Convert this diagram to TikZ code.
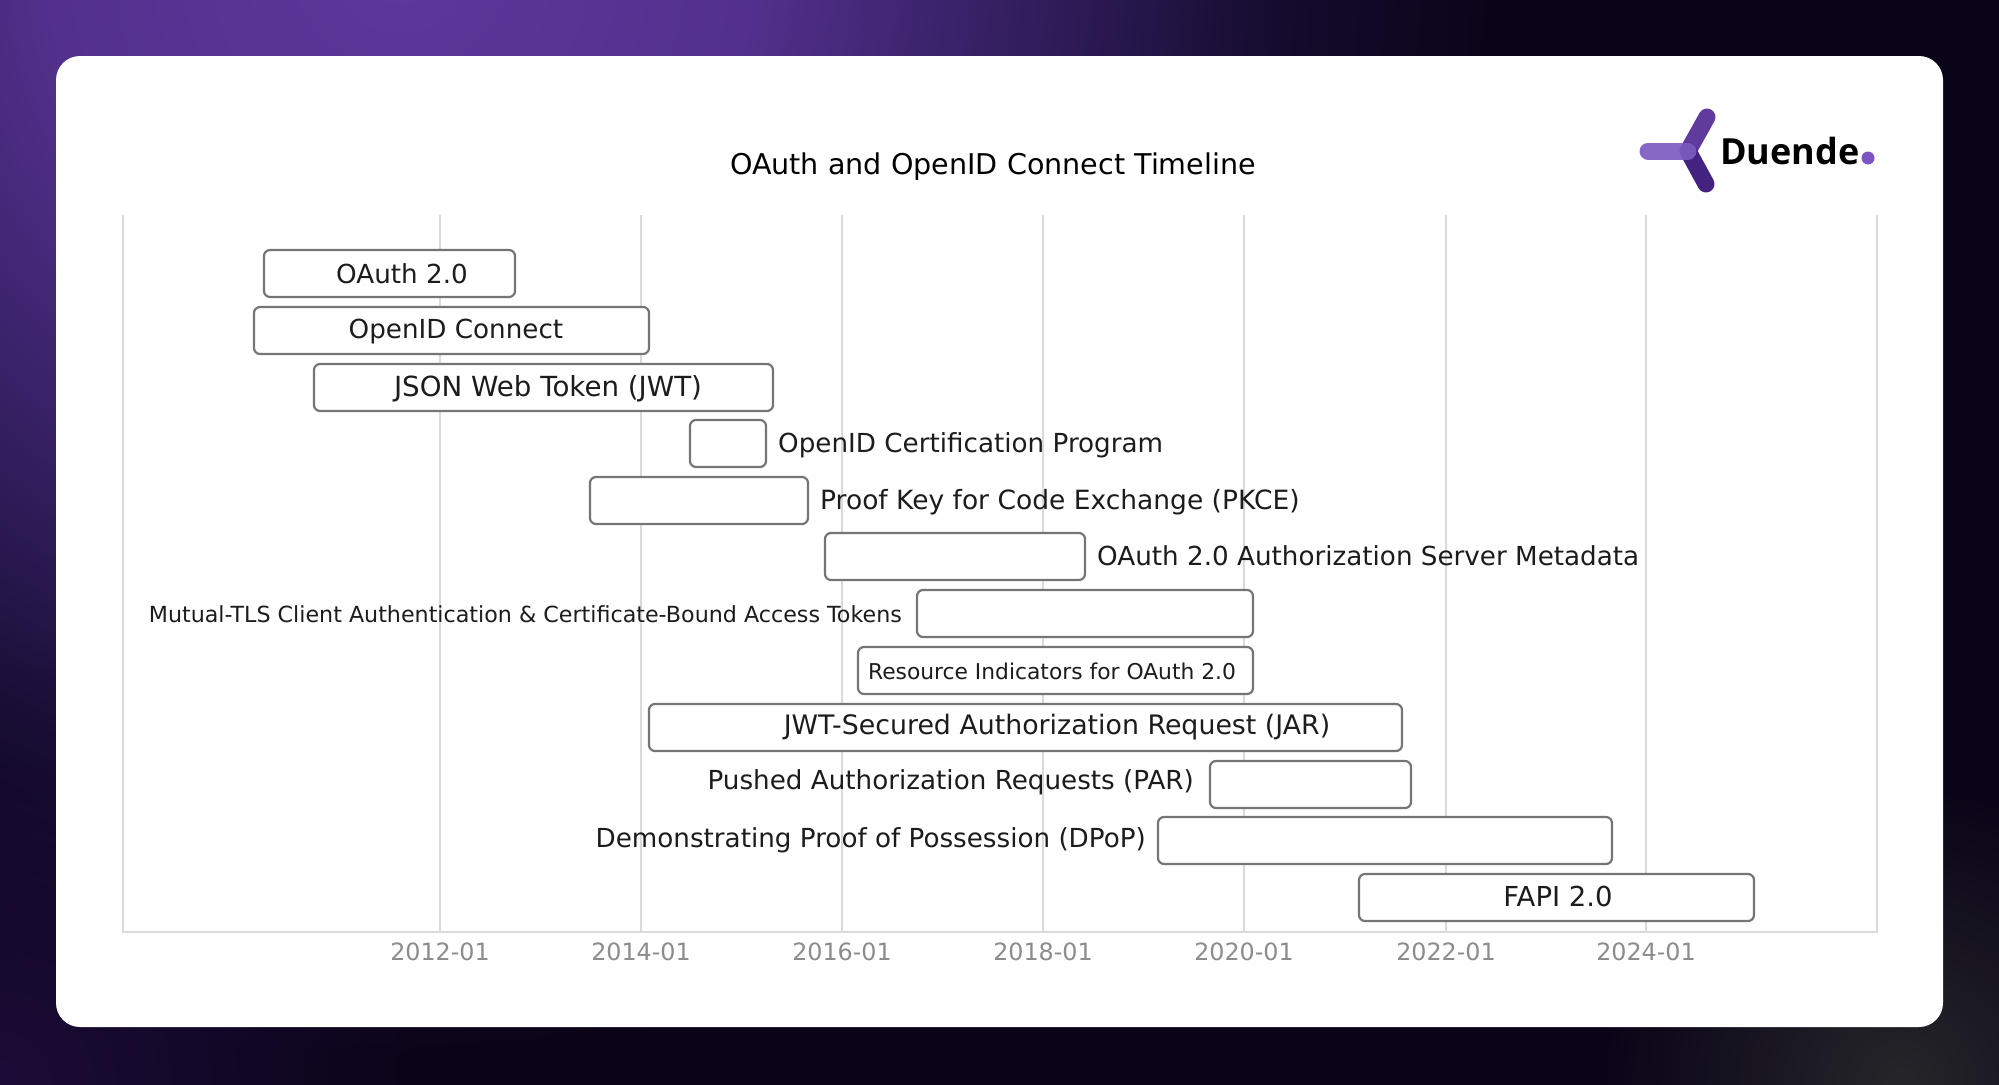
\documentclass[tikz,border=0pt]{standalone}
\usepackage{fontspec}
\usetikzlibrary{fadings}
\setmainfont{DejaVu Sans}
\newfontfamily\logofont{Open Sans}
\definecolor{gridc}{HTML}{DADADA}
\definecolor{barc}{HTML}{757575}
\definecolor{tickc}{HTML}{8C8C8C}
\definecolor{txtc}{HTML}{1C1C1C}
\definecolor{glowa}{HTML}{5E389C}
\definecolor{glowb}{HTML}{52308C}
\definecolor{glowc}{HTML}{2E1C58}
\definecolor{glowe}{HTML}{150B2E}
\definecolor{glowd}{HTML}{0A0418}
\definecolor{greya}{HTML}{26262A}
\definecolor{purpd}{HTML}{1C0C38}
\pgfdeclareradialshading{glowA}{\pgfpoint{0bp}{0bp}}{color(0bp)=(glowa);color(8bp)=(glowb);color(15bp)=(glowc);color(20bp)=(glowe);color(25bp)=(glowd);color(50bp)=(glowd)}
\tikzfading[name=softdisc,inner color=transparent!0,outer color=transparent!100]
\tikzset{
  x=1pt,y=-1pt,
  barbox/.style={draw=barc,line width=2.2pt,rounded corners=6pt,fill=white,inner sep=0pt,outer sep=0pt,anchor=north west,minimum height=47pt},
  bl/.style={anchor=base,inner sep=0pt,text=txtc,font=\fontsize{26.2}{30}\selectfont},
  bll/.style={bl,anchor=base west},
  blr/.style={bl,anchor=base east},
  ticklab/.style={anchor=base,inner sep=0pt,text=tickc,font=\fontsize{23.8}{28}\selectfont},
  gridl/.style={draw=gridc,line width=2pt},
}
\newcommand{\barat}[4]{\node[barbox,minimum width=#3pt] (#1) at (#2,#4) {};}
\begin{document}
\begin{tikzpicture}
\useasboundingbox (0,0) rectangle (1999,1084);
\fill[glowd] (-3,-3) rectangle (2002,1087);
\begin{scope}
\clip (-3,-3) rectangle (2002,1087);
\shade[shading=glowA] (400,-40) circle (1100);
\fill[purpd,path fading=softdisc] (0,1084) circle (420);
\fill[greya,path fading=softdisc] (1900,1084) circle (300);
\end{scope}
\fill[white,rounded corners=24pt] (56,56) rectangle (1943,1027);
% grid
\foreach \gx in {440,641,842,1043,1244,1446,1646}{\draw[gridl] (\gx,215) -- (\gx,932);}
\draw[gridl,line width=2.5pt] (123,215) -- (123,932) -- (1877,932) -- (1877,215);
% bars
\barat{b1}{264}{251}{250}
\barat{b2}{254}{395}{307}
\barat{b3}{314}{459}{364}
\barat{b4}{690}{76}{420}
\barat{b5}{590}{218}{477}
\barat{b6}{825}{260}{533}
\barat{b7}{917}{336}{590}
\barat{b8}{858}{395}{647}
\barat{b9}{649}{753}{704}
\barat{b10}{1210}{201}{761}
\barat{b11}{1158}{454}{817}
\barat{b12}{1359}{395}{874}
% labels
\node[bl] (t1) at (402,283) {OAuth 2.0};
\node[bl] (t2) at (456,338) {OpenID Connect};
\node[bl,font=\fontsize{27.7}{32}\selectfont] (t3) at (548,396) {JSON Web Token (JWT)};
\node[bll] (t4) at (778,452) {OpenID Certification Program};
\node[bll,font=\fontsize{26.5}{30}\selectfont] (t5) at (820,509) {Proof Key for Code Exchange (PKCE)};
\node[bll] (t6) at (1097,565) {OAuth 2.0 Authorization Server Metadata};
\node[blr,font=\fontsize{22.2}{26}\selectfont] (t7) at (902,622) {Mutual-TLS Client Authentication \& Certificate-Bound Access Tokens};
\node[bl,font=\fontsize{21.8}{26}\selectfont] (t8) at (1052,679) {Resource Indicators for OAuth 2.0};
\node[bl,font=\fontsize{26.8}{31}\selectfont] (t9) at (1057,734) {JWT-Secured Authorization Request (JAR)};
\node[blr] (t10) at (1194,789) {Pushed Authorization Requests (PAR)};
\node[blr] (t11) at (1146,847) {Demonstrating Proof of Possession (DPoP)};
\node[bl,font=\fontsize{27.5}{32}\selectfont] (t12) at (1558,906) {FAPI 2.0};
% ticks
\node[ticklab] (y1) at (440,960) {2012-01};
\node[ticklab] (y2) at (641,960) {2014-01};
\node[ticklab] (y3) at (842,960) {2016-01};
\node[ticklab] (y4) at (1043,960) {2018-01};
\node[ticklab] (y5) at (1244,960) {2020-01};
\node[ticklab] (y6) at (1446,960) {2022-01};
\node[ticklab] (y7) at (1646,960) {2024-01};
% title
\node[bl,font=\fontsize{28.6}{34}\selectfont,text=black] (title) at (993,174) {OAuth and OpenID Connect Timeline};
% logo
\draw[line cap=round,line width=17pt,color={rgb,255:red,97;green,58;blue,158}] (1688,151) -- (1707,117);
\draw[line cap=round,line width=17pt,color={rgb,255:red,67;green,35;blue,127}] (1688,151) -- (1706,184);
\draw[line cap=round,line width=17pt,color={rgb,255:red,125;green,92;blue,192},opacity=.92] (1648,151) -- (1688,151);
\node[anchor=base west,inner sep=0pt,text=black,font=\logofont\bfseries\fontsize{36}{40}\selectfont] (logo) at (1720,164) {Duende};
\fill[color={rgb,255:red,124;green,84;blue,196}] (1868,158) circle (6.5);
\end{tikzpicture}
\end{document}
